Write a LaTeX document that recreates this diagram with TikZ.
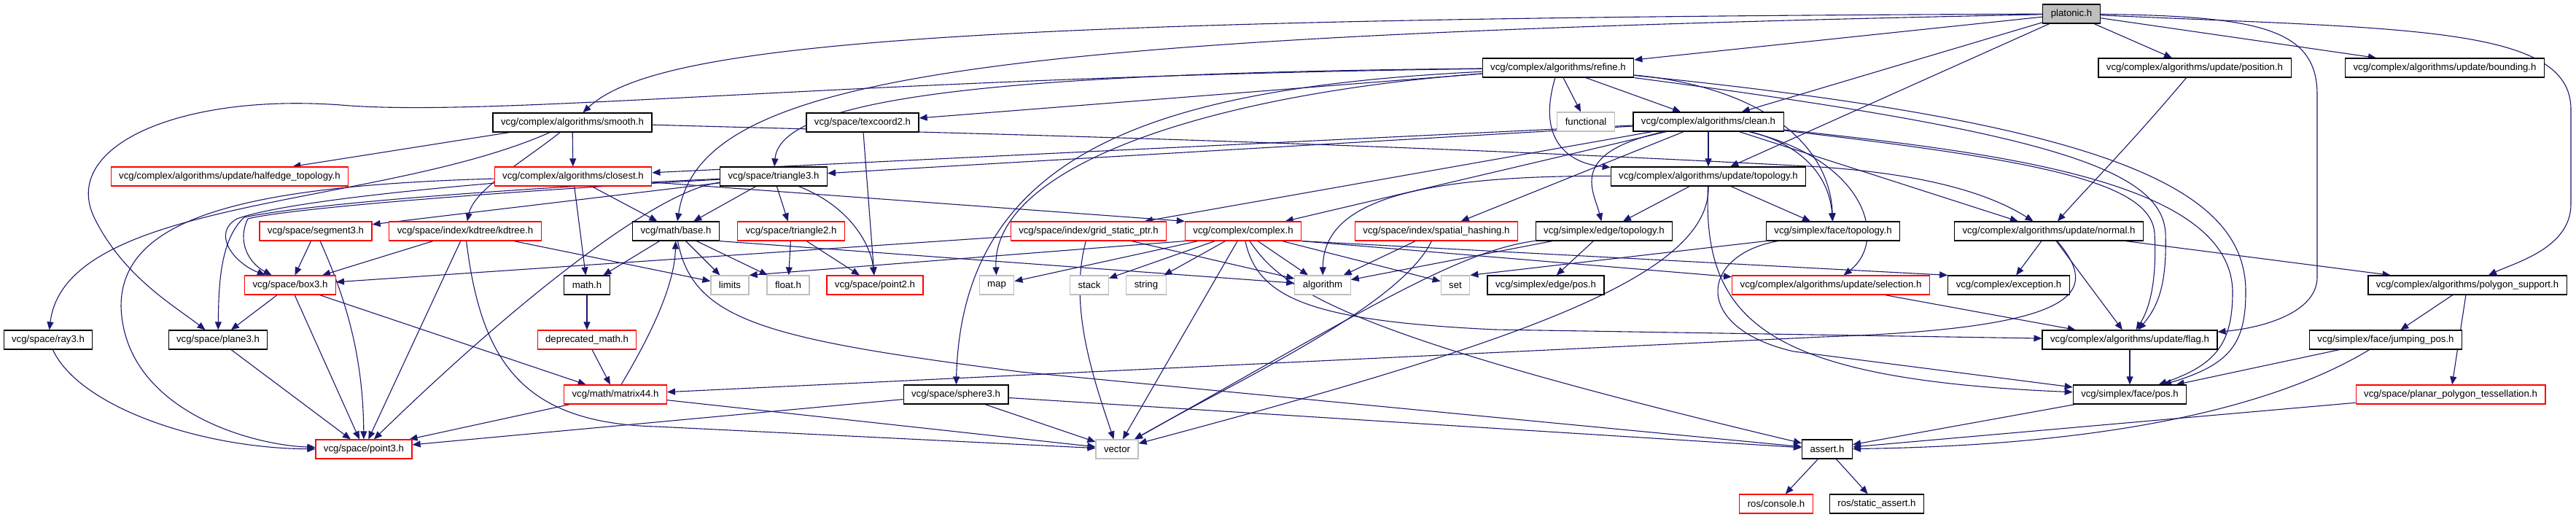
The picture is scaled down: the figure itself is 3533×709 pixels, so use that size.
\documentclass[tikz,border=0pt]{standalone}
\usepackage{fontspec}
\setmainfont{Liberation Sans}
\usetikzlibrary{arrows.meta}
\definecolor{edgeblue}{HTML}{191970}
\definecolor{sysgray}{HTML}{BFBFBF}
\pgfdeclarelayer{background}
\pgfsetlayers{background,main}
\tikzset{HEADER/.style={rectangle,draw=black,line width=1.2pt,fill=white,minimum height=26pt,inner xsep=11pt,inner ysep=0pt,font=\fontsize{13.2}{14}\selectfont}}
\tikzset{TRUNCATED/.style={HEADER,draw=red}}
\tikzset{SYSTEM/.style={HEADER,draw=sysgray}}
\tikzset{ROOT/.style={HEADER,fill=sysgray}}
\tikzset{ARROW/.style={draw=edgeblue,line width=1.1pt,-{Triangle[length=11pt,width=9pt]}}}

\begin{document}
\begin{tikzpicture}[x=1pt,y=-1pt]
\useasboundingbox (0,0) rectangle (3533,709);

\node[ROOT] (n_platonic) at (2841,19) {platonic.h};

\node[HEADER] (n_refine) at (2137,93) {vcg/complex/algorithms/refine.h};
\node[HEADER] (n_position) at (3010,93) {vcg/complex/algorithms/update/position.h};
\node[HEADER] (n_bounding) at (3353,93) {vcg/complex/algorithms/update/bounding.h};

\node[HEADER] (n_smooth) at (785,168) {vcg/complex/algorithms/smooth.h};
\node[HEADER] (n_texcoord) at (1183,168) {vcg/space/texcoord2.h};
\node[SYSTEM] (n_functional) at (2175,167) {functional};
\node[HEADER] (n_clean) at (2343,167) {vcg/complex/algorithms/clean.h};

\node[TRUNCATED] (n_halfedge) at (315,242) {vcg/complex/algorithms/update/halfedge\_topology.h};
\node[TRUNCATED] (n_closest) at (786,242) {vcg/complex/algorithms/closest.h};
\node[HEADER] (n_triangle3) at (1061,242) {vcg/space/triangle3.h};
\node[HEADER] (n_topology) at (2343,242) {vcg/complex/algorithms/update/topology.h};

\node[TRUNCATED] (n_segment) at (433,317) {vcg/space/segment3.h};
\node[TRUNCATED] (n_kdtree) at (638,317) {vcg/space/index/kdtree/kdtree.h};
\node[HEADER] (n_base) at (927,317) {vcg/math/base.h};
\node[TRUNCATED] (n_triangle2) at (1085,317) {vcg/space/triangle2.h};
\node[TRUNCATED] (n_grid) at (1493,317) {vcg/space/index/grid\_static\_ptr.h};
\node[TRUNCATED] (n_complex) at (1705,317) {vcg/complex/complex.h};
\node[TRUNCATED] (n_hashing) at (1970,317) {vcg/space/index/spatial\_hashing.h};
\node[HEADER] (n_edgetopo) at (2200,317) {vcg/simplex/edge/topology.h};
\node[HEADER] (n_facetopo) at (2514,317) {vcg/simplex/face/topology.h};
\node[HEADER] (n_normal) at (2810,317) {vcg/complex/algorithms/update/normal.h};

\node[TRUNCATED] (n_box) at (398,391) {vcg/space/box3.h};
\node[HEADER] (n_math) at (805,391) {math.h};
\node[SYSTEM] (n_limits) at (1001,391) {limits};
\node[SYSTEM] (n_float) at (1081,391) {float.h};
\node[TRUNCATED] (n_point2) at (1200,391) {vcg/space/point2.h};
\node[SYSTEM] (n_map) at (1367,391) {map};
\node[SYSTEM] (n_stack) at (1494,391) {stack};
\node[SYSTEM] (n_string) at (1572,391) {string};
\node[SYSTEM] (n_algorithm) at (1814,391) {algorithm};
\node[SYSTEM] (n_set) at (1996,391) {set};
\node[HEADER] (n_edgepos) at (2120,391) {vcg/simplex/edge/pos.h};
\node[TRUNCATED] (n_selection) at (2511,391) {vcg/complex/algorithms/update/selection.h};
\node[HEADER] (n_exception) at (2755,391) {vcg/complex/exception.h};
\node[HEADER] (n_polygon) at (3384,391) {vcg/complex/algorithms/polygon\_support.h};

\node[HEADER] (n_ray) at (66,466) {vcg/space/ray3.h};
\node[HEADER] (n_plane) at (299,466) {vcg/space/plane3.h};
\node[TRUNCATED] (n_deprecated) at (805,466) {deprecated\_math.h};
\node[HEADER] (n_flag) at (2921,466) {vcg/complex/algorithms/update/flag.h};
\node[HEADER] (n_jumping) at (3272,466) {vcg/simplex/face/jumping\_pos.h};

\node[TRUNCATED] (n_matrix) at (844,541) {vcg/math/matrix44.h};
\node[HEADER] (n_sphere) at (1311,541) {vcg/space/sphere3.h};
\node[HEADER] (n_facepos) at (2921,541) {vcg/simplex/face/pos.h};
\node[TRUNCATED] (n_tessellation) at (3361,541) {vcg/space/planar\_polygon\_tessellation.h};

\node[TRUNCATED] (n_point3) at (499,616) {vcg/space/point3.h};
\node[SYSTEM] (n_vector) at (1532,616) {vector};
\node[HEADER] (n_assert) at (2506,616) {assert.h};

\node[TRUNCATED] (n_console) at (2436,691) {ros/console.h};
\node[HEADER] (n_static) at (2574,691) {ros/static\_assert.h};

\begin{pgfonlayer}{background}
% platonic.h
\draw[ARROW] (n_platonic) -- (n_refine);
\draw[ARROW] (n_platonic) .. controls (1300,25) and (900,60) .. (n_smooth);
\draw[ARROW] (n_platonic) .. controls (1350,50) and (960,100) .. (n_base);
\draw[ARROW] (n_platonic) -- (n_clean);
\draw[ARROW] (n_platonic) -- (n_topology);
\draw[ARROW] (n_platonic) -- (n_position);
\draw[ARROW] (n_platonic) -- (n_bounding);
\draw[ARROW] (n_platonic) .. controls (3100,22) and (3178,40) .. (3178,130) -- (3178,380)
  .. controls (3178,430) and (3100,450) .. (n_flag);
\draw[ARROW] (n_platonic) .. controls (3300,40) and (3526,35) .. (3526,150) -- (3526,280)
  .. controls (3526,340) and (3450,360) .. (n_polygon);

% refine.h
\draw[ARROW] (n_refine) -- (n_functional);
\draw[ARROW] (n_refine) -- (n_clean);
\draw[ARROW] (n_refine) .. controls (2105,200) and (2160,225) .. (n_topology);
\draw[ARROW] (n_refine) -- (n_texcoord);
\draw[ARROW] (n_refine) .. controls (1400,100) and (1070,130) .. (n_triangle3);
\draw[ARROW] (n_refine) .. controls (1200,105) and (700,160) .. (480,145)
  .. controls (250,125) and (80,200) .. (130,300)
  .. controls (170,380) and (240,420) .. (n_plane);
\draw[ARROW] (n_refine) .. controls (1650,130) and (1360,230) .. (n_map);
\draw[ARROW] (n_refine) .. controls (1600,120) and (1320,200) .. (n_sphere);
\draw[ARROW] (n_refine) .. controls (2420,120) and (2510,200) .. (n_facetopo);
\draw[ARROW] (n_refine) .. controls (2800,180) and (2965,230) .. (2970,320)
  .. controls (2972,390) and (2960,420) .. (n_flag);
\draw[ARROW] (n_refine) .. controls (2900,170) and (3080,260) .. (3080,400)
  .. controls (3080,470) and (3060,500) .. (n_facepos);

% clean.h
\draw[ARROW] (n_clean) -- (n_topology);
\draw[ARROW] (n_clean) -- (n_triangle3);
\draw[ARROW] (n_clean) -- (n_closest);
\draw[ARROW] (n_clean) -- (n_complex);
\draw[ARROW] (n_clean) -- (n_grid);
\draw[ARROW] (n_clean) -- (n_hashing);
\draw[ARROW] (n_clean) .. controls (2150,210) and (2185,260) .. (n_edgetopo);
\draw[ARROW] (n_clean) .. controls (2480,200) and (2510,250) .. (n_facetopo);
\draw[ARROW] (n_clean) .. controls (2560,220) and (2590,330) .. (n_selection);
\draw[ARROW] (n_clean) -- (n_normal);
\draw[ARROW] (n_clean) .. controls (2800,220) and (2950,250) .. (2955,320)
  .. controls (2958,380) and (2950,420) .. (n_flag);
\draw[ARROW] (n_clean) .. controls (2750,210) and (3060,250) .. (3062,400)
  .. controls (3062,470) and (3040,500) .. (n_facepos);

% smooth.h
\draw[ARROW] (n_smooth) -- (n_halfedge);
\draw[ARROW] (n_smooth) -- (n_closest);
\draw[ARROW] (n_smooth) .. controls (720,220) and (650,260) .. (n_kdtree);
\draw[ARROW] (n_smooth) .. controls (520,285) and (90,270) .. (n_ray);
\draw[ARROW] (n_smooth) .. controls (1200,180) and (1800,192) .. (2480,228)
  .. controls (2620,236) and (2720,260) .. (n_normal);

% closest.h
\draw[ARROW] (n_closest) -- (n_math);
\draw[ARROW] (n_closest) -- (n_base);
\draw[ARROW] (n_closest) .. controls (330,255) and (166,300) .. (166,420)
  .. controls (170,560) and (340,610) .. (n_point3);
\draw[ARROW] (n_closest) .. controls (550,262) and (380,280) .. (325,300)
  .. controls (290,320) and (320,360) .. (n_box);
\draw[ARROW] (n_closest) -- (n_complex.north west);

% triangle3.h
\draw[ARROW] (n_triangle3) -- (n_triangle2);
\draw[ARROW] (n_triangle3) .. controls (1170,285) and (1195,340) .. (n_point2);
\draw[ARROW] (n_triangle3) -- (n_base);
\draw[ARROW] (n_triangle3) -- (n_segment);
\draw[ARROW] (n_triangle3) .. controls (700,258) and (420,280) .. (335,298)
  .. controls (300,330) and (300,400) .. (n_plane);
\draw[ARROW] (n_triangle3) .. controls (700,262) and (400,285) .. (340,300)
  .. controls (325,330) and (340,360) .. (n_box);
\draw[ARROW] (n_triangle3) .. controls (900,260) and (700,420) .. (n_point3);

% space
\draw[ARROW] (n_texcoord) -- (n_point2);
\draw[ARROW] (n_triangle2) -- (n_float);
\draw[ARROW] (n_triangle2) -- (n_point2);
\draw[ARROW] (n_segment) -- (n_box);
\draw[ARROW] (n_segment) .. controls (470,400) and (498,480) .. (n_point3);
\draw[ARROW] (n_kdtree) -- (n_box);
\draw[ARROW] (n_kdtree) -- (n_point3);
\draw[ARROW] (n_kdtree) -- (n_limits);
\draw[ARROW] (n_kdtree) .. controls (660,500) and (720,580) .. (900,585) -- (n_vector);
\draw[ARROW] (n_box) -- (n_plane);
\draw[ARROW] (n_box) -- (n_point3);
\draw[ARROW] (n_box) -- (n_matrix);
\draw[ARROW] (n_plane) -- (n_point3);
\draw[ARROW] (n_ray) .. controls (110,560) and (280,615) .. (n_point3);
\draw[ARROW] (n_sphere) -- (n_point3);
\draw[ARROW] (n_sphere) -- (n_vector);
\draw[ARROW] (n_sphere) -- (n_assert);

% math
\draw[ARROW] (n_math) -- (n_deprecated);
\draw[ARROW] (n_deprecated) -- (n_matrix);
\draw[ARROW] (n_matrix) .. controls (880,480) and (925,400) .. (n_base);
\draw[ARROW] (n_matrix) -- (n_point3);
\draw[ARROW] (n_matrix) -- (n_vector);
\draw[ARROW] (n_base) -- (n_math);
\draw[ARROW] (n_base) -- (n_limits);
\draw[ARROW] (n_base) -- (n_float);
\draw[ARROW] (n_base.south east) -- (n_algorithm);
\draw[ARROW] (n_base) .. controls (950,440) and (1050,465) .. (1400,510) -- (n_assert);

% index and complex
\draw[ARROW] (n_grid) -- (n_box);
\draw[ARROW] (n_grid) -- (n_algorithm);
\draw[ARROW] (n_grid) .. controls (1465,420) and (1500,520) .. (n_vector);
\draw[ARROW] (n_complex) -- (n_map);
\draw[ARROW] (n_complex) -- (n_stack);
\draw[ARROW] (n_complex) -- (n_string);
\draw[ARROW] (n_complex) -- (n_algorithm);
\draw[ARROW] (n_complex) -- (n_vector);
\draw[ARROW] (n_complex.south west) -- (n_limits.north east);
\draw[ARROW] (n_complex) -- (n_set);
\draw[ARROW] (n_complex.south east) -- (n_selection);
\draw[ARROW] (n_complex.south east) -- (n_exception.north west);
\draw[ARROW] (n_complex) .. controls (1725,410) and (1800,440) .. (2050,452) -- (n_flag);
\draw[ARROW] (n_complex) .. controls (1760,400) and (1850,460) .. (n_assert);
\draw[ARROW] (n_hashing) -- (n_algorithm);
\draw[ARROW] (n_hashing) .. controls (1920,420) and (1700,520) .. (n_vector);

% topology
\draw[ARROW] (n_topology) -- (n_edgetopo);
\draw[ARROW] (n_topology) -- (n_facetopo);
\draw[ARROW] (n_topology) .. controls (1900,240) and (1815,290) .. (n_algorithm);
\draw[ARROW] (n_topology) .. controls (2345,380) and (2080,470) .. (n_vector);
\draw[ARROW] (n_topology) .. controls (2335,440) and (2420,520) .. (n_facepos);
\draw[ARROW] (n_edgetopo) -- (n_algorithm);
\draw[ARROW] (n_edgetopo) -- (n_edgepos);
\draw[ARROW] (n_edgetopo) .. controls (2000,345) and (1880,420) .. (n_vector);
\draw[ARROW] (n_facetopo.south west) -- (n_set.north east);
\draw[ARROW] (n_facetopo) .. controls (2330,350) and (2320,450) .. (2460,482) -- (n_facepos);

% update
\draw[ARROW] (n_position) .. controls (2920,200) and (2860,260) .. (n_normal);
\draw[ARROW] (n_selection) -- (n_flag);
\draw[ARROW] (n_normal) -- (n_exception);
\draw[ARROW] (n_normal) -- (n_flag);
\draw[ARROW] (n_normal) -- (n_polygon);
\draw[ARROW] (n_normal) .. controls (2880,400) and (2860,450) .. (2500,462) -- (n_matrix);
\draw[ARROW] (n_flag) -- (n_facepos);
\draw[ARROW] (n_polygon) -- (n_jumping);
\draw[ARROW] (n_polygon) -- (n_tessellation);
\draw[ARROW] (n_jumping) -- (n_facepos);
\draw[ARROW] (n_jumping) .. controls (3150,540) and (2950,610) .. (n_assert);
\draw[ARROW] (n_tessellation) -- (n_assert);
\draw[ARROW] (n_facepos) -- (n_assert);
\draw[ARROW] (n_assert) -- (n_console);
\draw[ARROW] (n_assert) -- (n_static);
\end{pgfonlayer}

\end{tikzpicture}
\end{document}
